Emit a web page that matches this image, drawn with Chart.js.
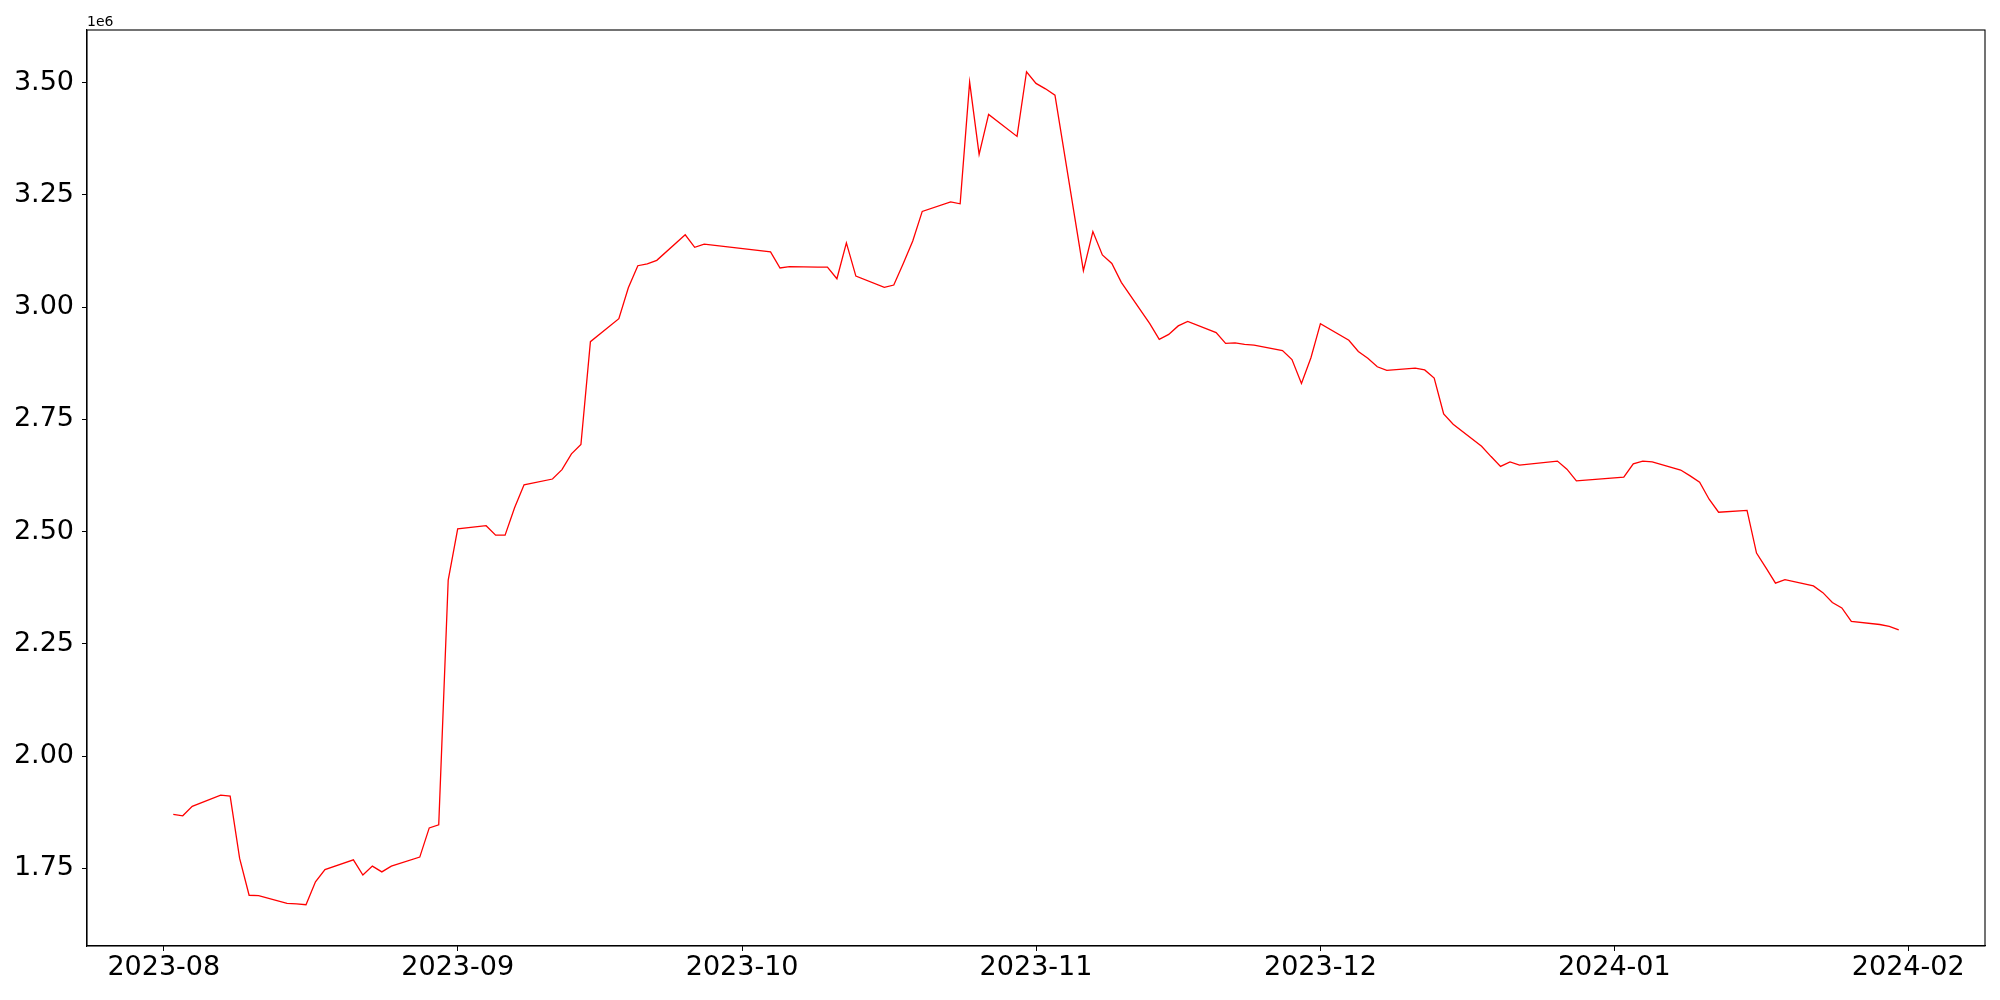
<!DOCTYPE html>
<html>
<head>
<meta charset="utf-8">
<script src="https://cdn.jsdelivr.net/npm/chart.js@4"></script>
<style>
  html, body { margin: 0; padding: 0; background: #fff; }
  #wrap { width: 2000px; height: 1000px; }
</style>
</head>
<body>
<div id="wrap"><canvas id="chart" width="2000" height="1000"></canvas></div>
<script>
// trading days and values (in millions, axis shows 1e6 offset)
const dates = [
  '2023-08-02','2023-08-03','2023-08-04','2023-08-07','2023-08-08','2023-08-09','2023-08-10','2023-08-11',
  '2023-08-14','2023-08-15','2023-08-16','2023-08-17','2023-08-18','2023-08-21','2023-08-22','2023-08-23',
  '2023-08-24','2023-08-25','2023-08-28','2023-08-29','2023-08-30','2023-08-31','2023-09-01','2023-09-04',
  '2023-09-05','2023-09-06','2023-09-07','2023-09-08','2023-09-11','2023-09-12','2023-09-13','2023-09-14',
  '2023-09-15','2023-09-18','2023-09-19','2023-09-20','2023-09-21','2023-09-22','2023-09-25','2023-09-26',
  '2023-09-27','2023-10-04','2023-10-05','2023-10-06','2023-10-09','2023-10-10','2023-10-11','2023-10-12',
  '2023-10-13','2023-10-16','2023-10-17','2023-10-18','2023-10-19','2023-10-20','2023-10-23','2023-10-24',
  '2023-10-25','2023-10-26','2023-10-27','2023-10-30','2023-10-31','2023-11-01','2023-11-02','2023-11-03',
  '2023-11-06','2023-11-07','2023-11-08','2023-11-09','2023-11-10','2023-11-13','2023-11-14','2023-11-15',
  '2023-11-16','2023-11-17','2023-11-20','2023-11-21','2023-11-22','2023-11-23','2023-11-24','2023-11-27',
  '2023-11-28','2023-11-29','2023-11-30','2023-12-01','2023-12-04','2023-12-05','2023-12-06','2023-12-07',
  '2023-12-08','2023-12-11','2023-12-12','2023-12-13','2023-12-14','2023-12-15','2023-12-18','2023-12-19',
  '2023-12-20','2023-12-21','2023-12-22','2023-12-26','2023-12-27','2023-12-28','2024-01-02','2024-01-03',
  '2024-01-04','2024-01-05','2024-01-08','2024-01-09','2024-01-10','2024-01-11','2024-01-12','2024-01-15',
  '2024-01-16','2024-01-17','2024-01-18','2024-01-19','2024-01-22','2024-01-23','2024-01-24','2024-01-25',
  '2024-01-26','2024-01-29','2024-01-30','2024-01-31'
];
const values = [
  1.870, 1.867, 1.888, 1.913, 1.911, 1.772, 1.690, 1.689,
  1.672, 1.671, 1.669, 1.720, 1.747, 1.769, 1.735, 1.755,
  1.742, 1.755, 1.775, 1.840, 1.847, 2.392, 2.506, 2.513,
  2.492, 2.492, 2.553, 2.604, 2.617, 2.638, 2.673, 2.694,
  2.923, 2.974, 3.043, 3.092, 3.096, 3.104, 3.161, 3.133,
  3.140, 3.123, 3.087, 3.090, 3.089, 3.089, 3.063, 3.143,
  3.069, 3.044, 3.049, 3.097, 3.147, 3.213, 3.234, 3.230,
  3.501, 3.340, 3.429, 3.380, 3.524, 3.498, 3.486, 3.472,
  3.081, 3.168, 3.116, 3.097, 3.055, 2.963, 2.928, 2.939,
  2.958, 2.968, 2.943, 2.919, 2.920, 2.917, 2.915, 2.903,
  2.883, 2.830, 2.887, 2.963, 2.926, 2.901, 2.886, 2.867,
  2.859, 2.864, 2.860, 2.842, 2.762, 2.739, 2.690, 2.667,
  2.645, 2.655, 2.648, 2.657, 2.639, 2.613, 2.621, 2.651,
  2.657, 2.655, 2.637, 2.624, 2.610, 2.572, 2.543, 2.547,
  2.452, 2.419, 2.385, 2.393, 2.379, 2.364, 2.342, 2.330,
  2.300, 2.293, 2.289, 2.281
];
const monthTicks = ['2023-08','2023-09','2023-10','2023-11','2023-12','2024-01','2024-02'];
const yTicks = [1.75, 2.00, 2.25, 2.50, 2.75, 3.00, 3.25, 3.50];

// x axis is days since 2023-08-01
const origin = Date.UTC(2023, 7, 1);
function toDay(s) {
  const p = s.split('-').map(Number);
  return (Date.UTC(p[0], p[1] - 1, p[2] || 1) - origin) / 86400000;
}
const points = dates.map((d, i) => ({ x: toDay(d), y: values[i] }));
const monthDays = monthTicks.map(toDay);

const tickFont = { family: 'DejaVu Sans', size: 27 };

// matplotlib style frame and the offset text
const frame = {
  id: 'frame',
  afterDraw(chart) {
    const { ctx, chartArea: a } = chart;
    ctx.save();
    ctx.strokeStyle = '#000';
    ctx.lineWidth = 1.1;
    ctx.strokeRect(a.left, a.top, a.right - a.left, a.bottom - a.top);
    ctx.fillStyle = '#000';
    ctx.font = '14px "DejaVu Sans"';
    ctx.textAlign = 'left';
    ctx.textBaseline = 'alphabetic';
    ctx.fillText('1e6', a.left, a.top - 4);
    ctx.restore();
  }
};

new Chart(document.getElementById('chart'), {
  type: 'line',
  data: {
    datasets: [{
      data: points,
      borderColor: 'red',
      borderWidth: 1.3,
      pointRadius: 0,
      tension: 0,
      fill: false
    }]
  },
  options: {
    responsive: false,
    devicePixelRatio: 1,
    animation: false,
    layout: { padding: { top: 30, right: 15, left: 0, bottom: 0 } },
    plugins: { legend: { display: false }, tooltip: { enabled: false } },
    scales: {
      x: {
        type: 'linear',
        min: -8.1,
        max: 192.1,
        afterBuildTicks: axis => { axis.ticks = monthDays.map(v => ({ value: v })); },
        afterFit: axis => { axis.height = 54; },
        ticks: {
          autoSkip: false,
          maxRotation: 0,
          color: '#000',
          font: tickFont,
          padding: 1,
          callback: (v, i) => monthTicks[i]
        },
        grid: { drawOnChartArea: false, tickLength: 5, tickColor: '#000' },
        border: { color: '#000', width: 1.1 }
      },
      y: {
        min: 1.577,
        max: 3.617,
        afterBuildTicks: axis => { axis.ticks = yTicks.map(v => ({ value: v })); },
        afterFit: axis => { axis.width = 87; },
        ticks: {
          color: '#000',
          font: tickFont,
          padding: 8,
          callback: v => v.toFixed(2)
        },
        grid: { drawOnChartArea: false, tickLength: 5, tickColor: '#000' },
        border: { color: '#000', width: 1.1 }
      }
    }
  },
  plugins: [frame]
});
</script>
</body>
</html>
